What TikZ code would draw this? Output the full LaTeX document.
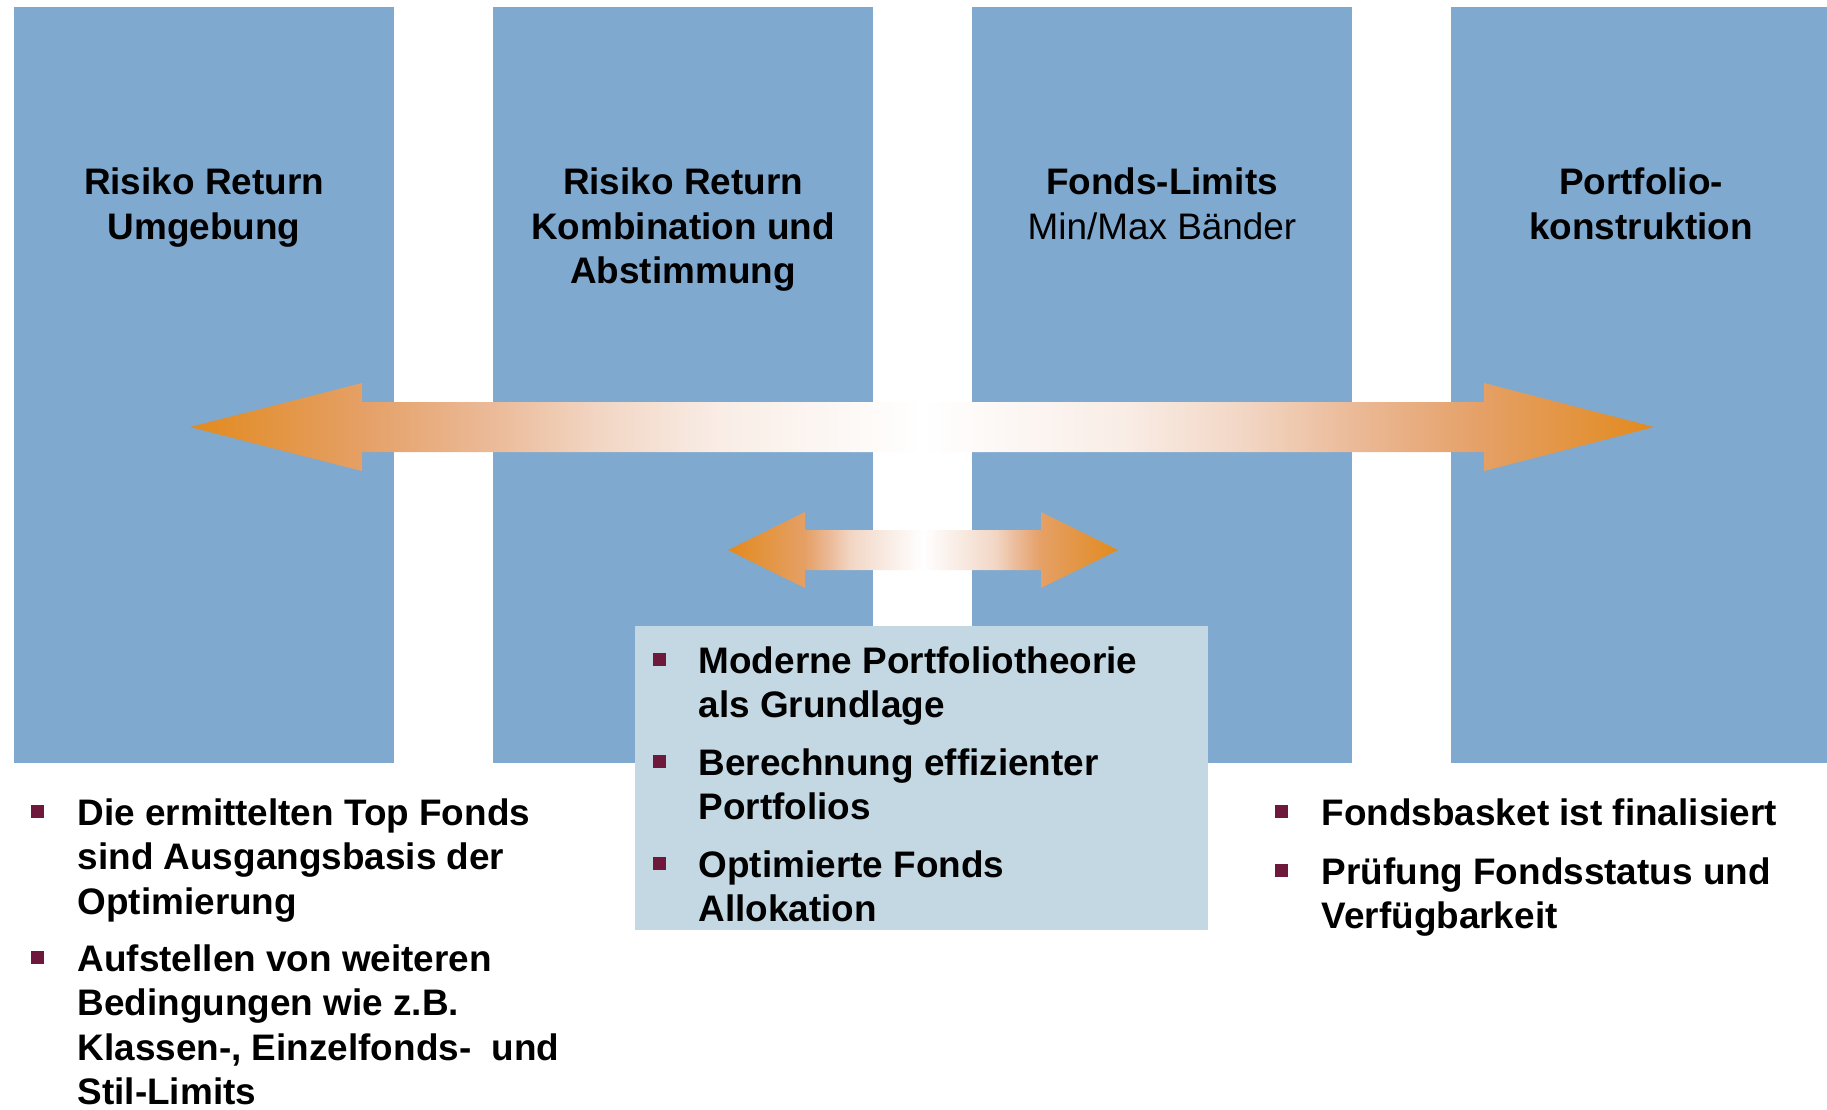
\documentclass[tikz,border=0pt]{standalone}
\usepackage{fontspec}
\setmainfont{Liberation Sans}
\usetikzlibrary{positioning}
\definecolor{colblue}{RGB}{127,169,207}
\definecolor{boxblue}{RGB}{195,216,226}
\definecolor{bulred}{RGB}{110,25,60}
\definecolor{tipor}{RGB}{226,138,30}
\definecolor{midor}{RGB}{229,160,102}
\definecolor{peach}{RGB}{235,186,152}
\definecolor{paleor}{RGB}{242,214,196}
\definecolor{faintor}{RGB}{249,237,230}
\pgfdeclarehorizontalshading{bigfade}{100bp}{color(0bp)=(tipor); color(25bp)=(tipor); color(30.9bp)=(midor); color(35.3bp)=(peach); color(39bp)=(paleor); color(43.1bp)=(faintor); color(50bp)=(white); color(56.9bp)=(faintor); color(61bp)=(paleor); color(64.7bp)=(peach); color(69.1bp)=(midor); color(75bp)=(tipor); color(100bp)=(tipor)}
\pgfdeclarehorizontalshading{smallfade}{100bp}{color(0bp)=(tipor); color(25bp)=(tipor); color(34.9bp)=(midor); color(38bp)=(peach); color(40.7bp)=(paleor); color(45.8bp)=(faintor); color(50bp)=(white); color(54.2bp)=(faintor); color(59.3bp)=(paleor); color(62bp)=(peach); color(65.1bp)=(midor); color(75bp)=(tipor); color(100bp)=(tipor)}

\begin{document}
\begin{tikzpicture}[x=0.1mm, y=-0.1mm, col/.style={fill=colblue, minimum width=38mm, minimum height=75.6mm, inner sep=0}, title/.style={align=center, inner sep=0, font=\fontsize{10.5pt}{12.6pt}\selectfont\bfseries}, item/.style={align=left, inner sep=0, anchor=north west, font=\fontsize{10.5pt}{12.6pt}\selectfont\bfseries}, bul/.style={fill=bulred, minimum size=1.3mm, inner sep=0}]
            \useasboundingbox (0,0) rectangle (1827,1109);
            \fill[white] (0,0) rectangle (1827,1109);
            % columns
            \node[col] (c1) at (204,385) {};
            \node[col] (c2) at (683,385) {};
            \node[col] (c3) at (1162,385) {};
            \node[col] (c4) at (1641,385) {};
            \node[title, below=16.1mm of c1.north] (t1) {Risiko Return\\Umgebung};
            \node[title, below=16.1mm of c2.north] (t2) {Risiko Return\\Kombination und\\Abstimmung};
            \node[title, below=16.1mm of c3.north] (t3) {Fonds-Limits\\{\mdseries Min/Max Bänder}};
            \node[title, below=16.1mm of c4.north] (t4) {Portfolio-\\konstruktion};
            % arrows
            \shade[shading=bigfade] (190,427) -- (362,383) -- (362,402) -- (1484,402) -- (1484,383) -- (1654,427) -- (1484,471) -- (1484,452) -- (362,452) -- (362,471) -- cycle;
            \shade[shading=smallfade] (728,550) -- (805,512) -- (805,530) -- (1041,530) -- (1041,512) -- (1118,550) -- (1041,588) -- (1041,570) -- (805,570) -- (805,588) -- cycle;
            % middle box
            \node[fill=boxblue, minimum width=57.3mm, minimum height=30.4mm, inner sep=0] (box) at (921.5,778) {};
            % lists
            \node[item] (l1) at (77,798) {Die ermittelten Top Fonds\\sind Ausgangsbasis der\\Optimierung};
            \node[item] (l2) at (77,944) {Aufstellen von weiteren\\Bedingungen wie z.B.\\Klassen-, Einzelfonds-\ \ und\\Stil-Limits};
            \node[item] (m1) at (698,646) {Moderne Portfoliotheorie\\als Grundlage};
            \node[item] (m2) at (698,748) {Berechnung effizienter\\Portfolios};
            \node[item] (m3) at (698,850) {Optimierte Fonds\\Allokation};
            \node[item] (r1) at (1321,798) {Fondsbasket ist finalisiert};
            \node[item] (r2) at (1321,857) {Prüfung Fondsstatus und\\Verfügbarkeit};
            \node[bul] (bl1) at ([xshift=-4mm,yshift=-1.35mm]l1.north west) {};
            \node[bul] (bl2) at ([xshift=-4mm,yshift=-1.35mm]l2.north west) {};
            \node[bul] (bm1) at ([xshift=-3.9mm,yshift=-1.35mm]m1.north west) {};
            \node[bul] (bm2) at ([xshift=-3.9mm,yshift=-1.35mm]m2.north west) {};
            \node[bul] (bm3) at ([xshift=-3.9mm,yshift=-1.35mm]m3.north west) {};
            \node[bul] (br1) at ([xshift=-4mm,yshift=-1.35mm]r1.north west) {};
            \node[bul] (br2) at ([xshift=-4mm,yshift=-1.35mm]r2.north west) {};
        \end{tikzpicture}
\end{document}
